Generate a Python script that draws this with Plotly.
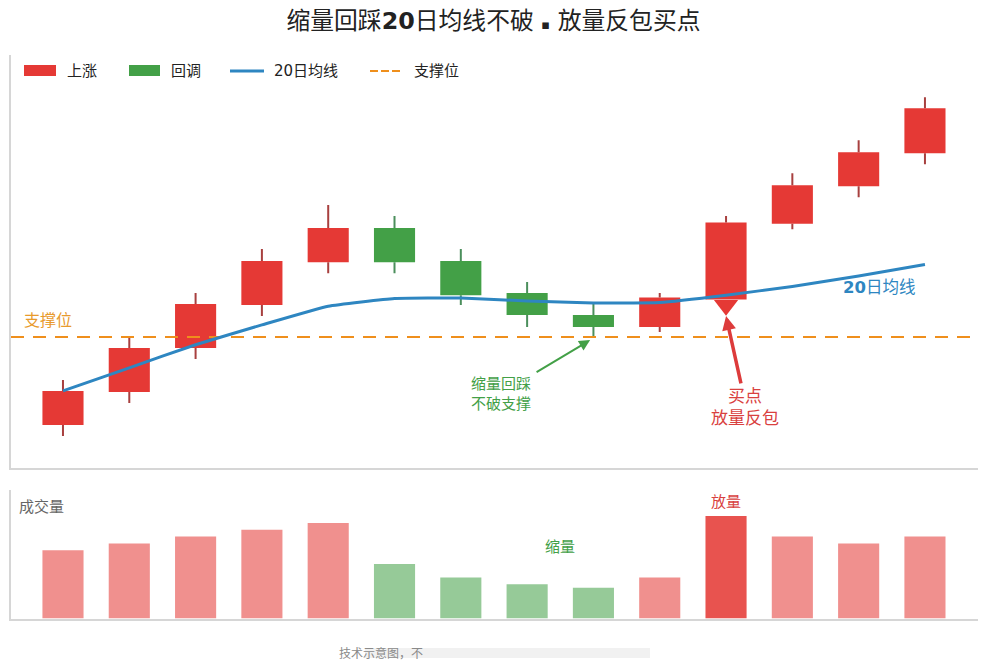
import plotly.graph_objects as go

W, H = 987, 671
idx = list(range(14))
opens  = [60, 75, 95, 114.5, 134, 149.5, 134.5, 120, 110, 104.5, 117, 151.5, 168.5, 183.5]
closes = [75.5, 95, 115, 134.5, 149.5, 134, 119, 110, 104.5, 118, 152, 169, 184, 204]
highs  = [80.5, 100, 120, 140, 160, 155, 140, 125, 115, 120, 155, 174.5, 189.5, 209]
lows   = [55, 70, 90, 109.5, 129, 129, 114.5, 104.5, 100, 102.3, 117, 149, 163.5, 178.5]
ma20   = [75.5, 86, 96.5, 105.5, 114, 117.5, 117.7, 116.4, 115.5, 115.7, 119, 123, 127.7, 133]
support = 100
volume = [10, 11, 12, 13, 14, 8, 6, 5, 4.5, 6, 15, 12, 11, 12]
legend_labels = ["上涨", "回调", "20日均线", "支撑位"]

RED, GREEN, BLUE, ORANGE = "#e53935", "#43a047", "#2e86c1", "#ef8f1c"
RED_W, GREEN_W = "#a8403f", "#4b8f5c"
AXIS = "#d6d6d6"
FONT = "DejaVu Sans, Noto Sans CJK SC, sans-serif"
XR = [-0.784, 13.8]


def px(x):
    return x / W


def py(y):
    return 1 - y / H


up = [i for i in idx if closes[i] >= opens[i]]
dn = [i for i in idx if closes[i] < opens[i]]


def wick(ids):
    xs, ys = [], []
    for i in ids:
        xs += [i, i, None, i, i, None]
        ys += [max(opens[i], closes[i]), highs[i], None, lows[i], min(opens[i], closes[i]), None]
    return xs, ys


fig = go.Figure()
for ids, col, wc, name in [(up, RED, RED_W, legend_labels[0]), (dn, GREEN, GREEN_W, legend_labels[1])]:
    fig.add_bar(x=ids, y=[abs(closes[i] - opens[i]) for i in ids],
                base=[min(opens[i], closes[i]) for i in ids], width=0.62,
                marker=dict(color=col, line=dict(width=0)), name=name, showlegend=False)
    wx, wy = wick(ids)
    fig.add_scatter(x=wx, y=wy, mode="lines", line=dict(color=wc, width=2), showlegend=False, hoverinfo="skip")

fig.add_scatter(x=XR, y=[support, support], mode="lines", name=legend_labels[3],
                line=dict(color=ORANGE, width=2.2, dash="13px,9px"), showlegend=False)
fig.add_scatter(x=idx, y=ma20, mode="lines", name=legend_labels[2],
                line=dict(color=BLUE, width=3, shape="spline", smoothing=0.35), showlegend=False)
fig.add_scatter(x=[10], y=[114.4], mode="markers", showlegend=False, hoverinfo="skip",
                marker=dict(symbol="triangle-down", size=21, color=RED, line=dict(width=0)))

vol_colors = []
vol_alpha = []
for i in idx:
    vol_colors.append(RED if closes[i] >= opens[i] else GREEN)
    vol_alpha.append(0.87 if volume[i] == max(volume) else 0.56)
fig.add_bar(x=idx, y=volume, width=0.62, xaxis="x2", yaxis="y2", showlegend=False, name="成交量",
            marker=dict(color=vol_colors, opacity=vol_alpha, line=dict(width=0)))

ann = []


def text(x, y, t, size, color, xref="x", yref="y", xanchor="center"):
    ann.append(dict(x=x, y=y, xref=xref, yref=yref, text=t, showarrow=False, xanchor=xanchor, yanchor="middle",
                    font=dict(size=size, color=color, family=FONT)))


ann.append(dict(x=7.95, y=98.6, ax=7.12, ay=83.6, xref="x", yref="y", axref="x", ayref="y", text="",
                showarrow=True, arrowhead=2, arrowsize=1.1, arrowwidth=2, arrowcolor=GREEN))
ann.append(dict(x=10.0, y=109.5, ax=10.23, ay=78.2, xref="x", yref="y", axref="x", ayref="y", text="",
                showarrow=True, arrowhead=2, arrowsize=0.8, arrowwidth=3.5, arrowcolor="#dd3b3b"))
text(-0.23, 107.3, "支撑位", 16, "#e89a2c")
text(12.3, 122.7, "<b>20</b>日均线", 16.5, BLUE)
text(6.6, 74.1, "缩量回踩<br>不破支撑", 15, GREEN)
text(10.29, 68.2, "买点<br>放量反包", 17, "#d9413f")
text(-0.32, 16.4, "成交量", 15, "#666666", "x2", "y2")
text(10.0, 17.1, "放量", 15, "#d9413f", "x2", "y2")
text(7.5, 10.5, "缩量", 15, GREEN, "x2", "y2")
text(px(337), py(653), "技术示意图，不", 12, "#8a8a8a", "paper", "paper", "left")

shapes = [
    dict(type="rect", xref="paper", yref="paper", x0=px(24), x1=px(56), y0=py(65), y1=py(76),
         fillcolor=RED, line=dict(width=0)),
    dict(type="rect", xref="paper", yref="paper", x0=px(129), x1=px(160), y0=py(65), y1=py(76),
         fillcolor=GREEN, line=dict(width=0)),
    dict(type="line", xref="paper", yref="paper", x0=px(230), x1=px(264), y0=py(71), y1=py(71),
         line=dict(color=BLUE, width=3)),
    dict(type="line", xref="paper", yref="paper", x0=px(370), x1=px(400), y0=py(71), y1=py(71),
         line=dict(color=ORANGE, width=2.2, dash="8px,3px")),
    dict(type="rect", xref="paper", yref="paper", x0=px(365), x1=px(650), y0=py(648), y1=py(658),
         fillcolor="#f1f1f1", line=dict(width=0), layer="below"),
]
for x, t in zip([65, 169, 272, 412], legend_labels):
    text(px(x), py(70.5), t, 15, "#222222", "paper", "paper", "left")

axis = dict(showgrid=False, zeroline=False, showticklabels=False, ticks="", showline=True,
            linecolor=AXIS, linewidth=1.5, fixedrange=True)
fig.update_layout(
    width=W, height=H, margin=dict(l=0, r=0, t=0, b=0), paper_bgcolor="white", plot_bgcolor="white",
    barmode="overlay", showlegend=False, font=dict(family=FONT), annotations=ann, shapes=shapes,
    title=dict(text='缩量回踩<b>20</b>日均线不破 <span style="font-size:13px">▪</span> 放量反包买点',
               x=0.5, xanchor="center", y=py(21), yanchor="middle",
               font=dict(size=23.8, color="#222222", family=FONT)),
    xaxis=dict(axis, domain=[px(11), px(978)], range=XR),
    yaxis=dict(axis, domain=[py(467.5), py(55)], range=[40.68, 228.2]),
    xaxis2=dict(axis, domain=[px(11), px(978)], range=XR, anchor="y2"),
    yaxis2=dict(axis, domain=[py(618.5), py(490)], range=[0, 18.82], anchor="x2"),
)
fig.write_html("out.html", post_script="document.body.style.margin='0';",
               config=dict(displayModeBar=False))
